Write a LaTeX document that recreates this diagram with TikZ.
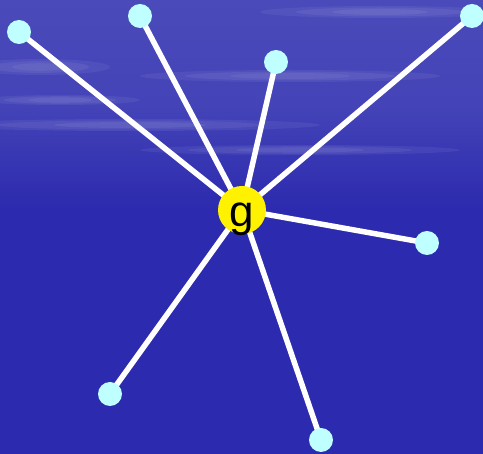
\documentclass[tikz,border=0pt]{standalone}
\usepackage{fontspec}
\setmainfont{Liberation Sans}
\definecolor{deepblue}{RGB}{44,42,174}
\definecolor{skyblue}{RGB}{74,74,186}
\definecolor{leafcyan}{RGB}{192,255,255}
\pgfdeclarelayer{bg}
\pgfdeclarelayer{edges}
\pgfsetlayers{bg,edges,main}
\tikzset{
    hub/.style={circle, fill=yellow, minimum size=48pt, inner sep=0pt,
        font=\fontsize{44}{44}\selectfont, text height=34pt, text depth=0pt},
    leaf/.style={circle, fill=leafcyan, minimum size=24pt, inner sep=0pt},
    spoke/.style={white, line width=5.5pt}
}
\begin{document}
\begin{tikzpicture}[x=1pt, y=-1pt]
    \useasboundingbox (0,0) rectangle (483,454);
    % 背景
    \begin{pgfonlayer}{bg}
        \fill[deepblue] (0,0) rectangle (483,454);
        \shade[top color=skyblue, bottom color=deepblue, middle color=skyblue!80!deepblue]
            (0,0) rectangle (483,210);
        \foreach \cx/\cy/\rx/\ry in {40/67/70/7, 290/76/150/5, 130/125/190/5,
                                    380/12/120/5, 60/100/80/4, 300/150/160/4} {
            \foreach \k in {1,0.7,0.4} {
                \fill[white, opacity=0.06] (\cx,\cy) ellipse ({\rx*\k} and {\ry*\k+1});
            }
        }
    \end{pgfonlayer}
    % 中心点
    \node[hub] (g) at (242,210) {g};
    % 外围点
    \foreach \name/\x/\y in {v1/19/32, v2/140/16, v3/276/62, v4/472/16,
                             v5/427/243, v6/110/394, v7/321/440} {
        \node[leaf] (\name) at (\x,\y) {};
    }
    % 连线
    \begin{pgfonlayer}{edges}
        \foreach \name in {v1,v2,v3,v4,v5,v6,v7} {
            \draw[spoke] (g.center) -- (\name.center);
        }
    \end{pgfonlayer}
\end{tikzpicture}
\end{document}
